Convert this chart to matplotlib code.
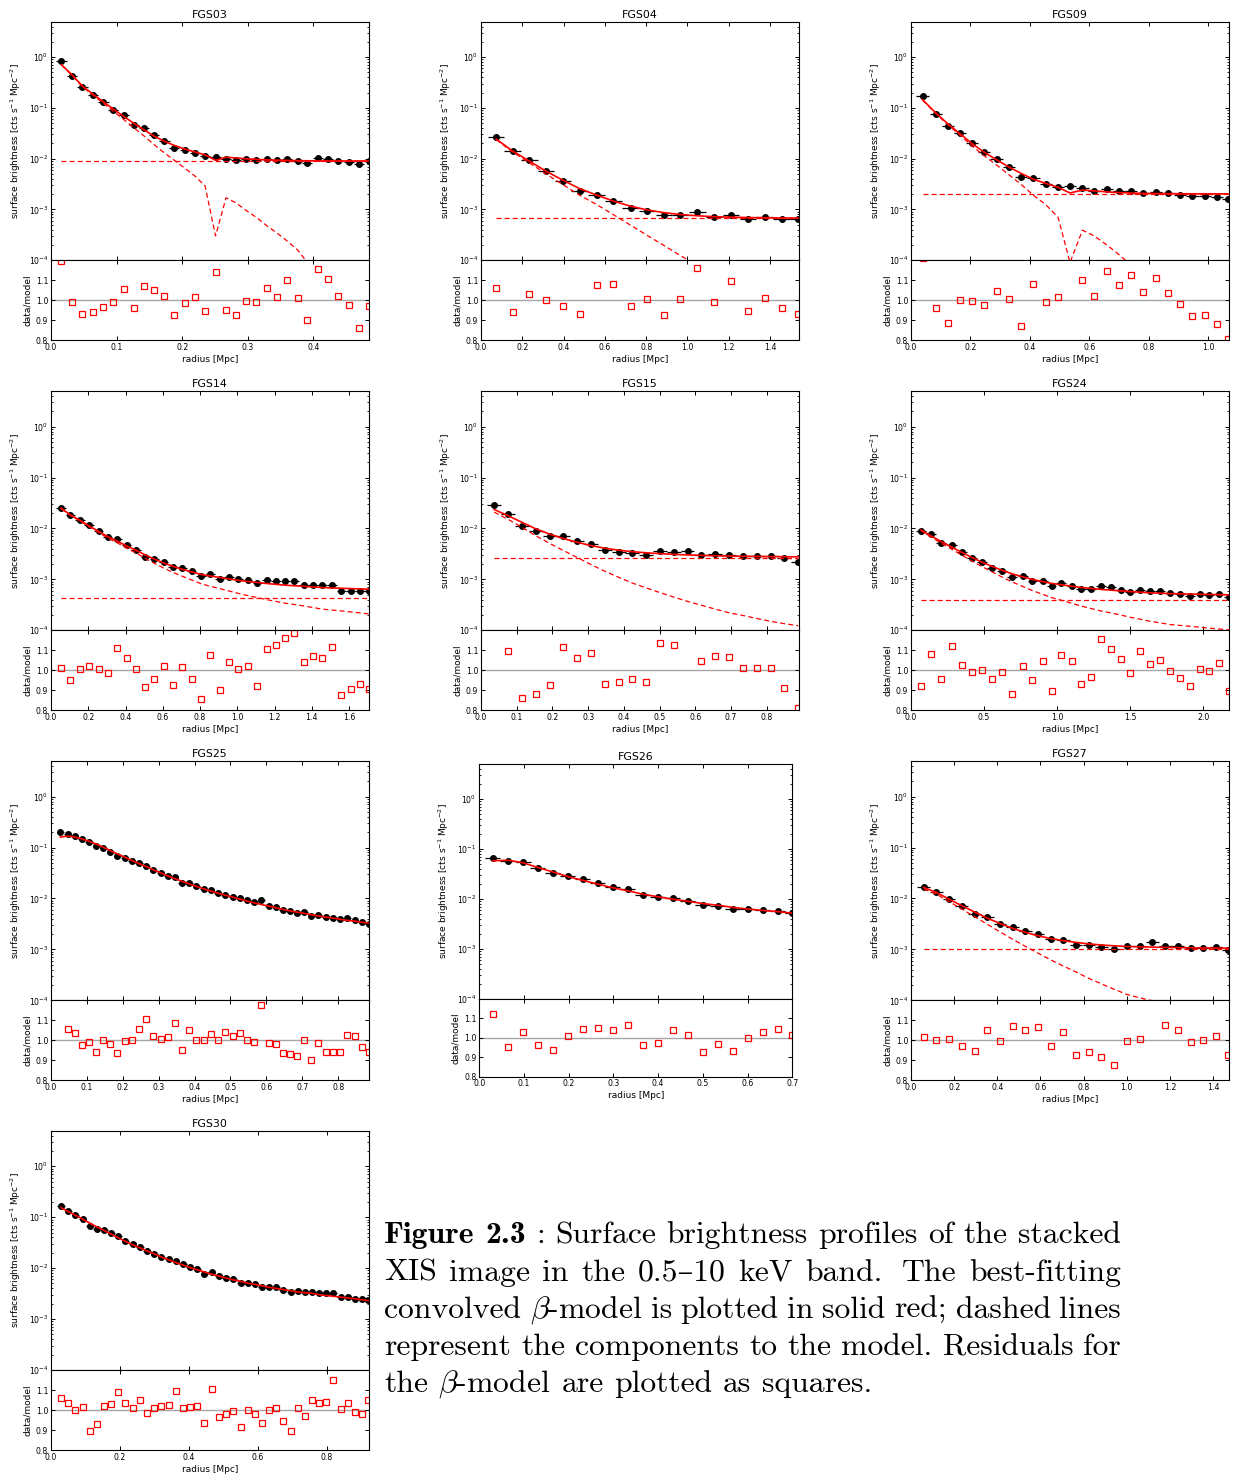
import re
import matplotlib
matplotlib.use("Agg")
import numpy as np
import matplotlib.pyplot as plt
from matplotlib.ticker import MultipleLocator, NullLocator

W, H = 1233, 1478

# ---- FGS03 ----
fgs03_r = [0.016, 0.032, 0.048, 0.064, 0.080, 0.095, 0.111, 0.126, 0.142, 0.157, 0.173, 0.188, 0.204, 0.220, 0.235, 0.251,
           0.267, 0.282, 0.298, 0.313, 0.329, 0.345, 0.360, 0.376, 0.391, 0.407, 0.423, 0.438, 0.454, 0.470, 0.485]
fgs03_sb = [0.85, 0.43, 0.26, 0.18, 0.128, 0.093, 0.071, 0.047, 0.0395, 0.0288, 0.022, 0.0164, 0.0146, 0.0131, 0.0113, 0.0106,
            0.0100, 0.0094, 0.0097, 0.0094, 0.0099, 0.0094, 0.0100, 0.0091, 0.0081, 0.0103, 0.0098, 0.0091, 0.0086, 0.0077, 0.0089]
fgs03_ratio = [1.195, 0.993, 0.93, 0.942, 0.965, 0.993, 1.058, 0.963, 1.073, 1.052, 1.022, 0.928, 0.987, 1.018, 0.945, 1.143,
               0.95, 0.925, 0.998, 0.99, 1.063, 1.015, 1.103, 1.013, 0.90, 1.157, 1.108, 1.023, 0.975, 0.86, 0.972]
fgs03_beta = [0.70, 0.44, 0.26, 0.178, 0.123, 0.086, 0.059, 0.041, 0.028, 0.019, 0.013, 0.0093, 0.0065, 0.0045, 0.0029, 0.0003,
              0.0017, 0.00135, 0.00095, 0.0007, 0.00048, 0.00034, 0.00024, 0.00016, 0.00009, 0.00006, 0.00004, 0.00003, 0.00002,
              0.000013, 0.000009]
fgs03_bg = 0.009

# ---- FGS04 ----
fgs04_r = [0.073, 0.153, 0.234, 0.315, 0.396, 0.478, 0.560, 0.641, 0.724, 0.804, 0.886, 0.966, 1.048, 1.129, 1.211, 1.294,
           1.374, 1.456, 1.535]
fgs04_sb = [0.0271, 0.0144, 0.0094, 0.0057, 0.00358, 0.00231, 0.00193, 0.00147, 0.00105, 0.00095, 0.00078, 0.00079, 0.00088,
            0.00072, 0.00078, 0.00066, 0.0007, 0.00066, 0.00064]
fgs04_ratio = [1.063, 0.942, 1.03, 1.0, 0.972, 0.933, 1.078, 1.08, 0.972, 1.008, 0.928, 1.008, 1.163, 0.993, 1.097, 0.947,
               1.013, 0.963, 0.933]
fgs04_beta = [0.0238, 0.0135, 0.0083, 0.0050, 0.0031, 0.0019, 0.00125, 0.00079, 0.00049, 0.00031, 0.000195, 0.000123, 0.00008,
              0.00005, 0.000035, 0.000022, 0.000015, 0.00001, 0.000007]
fgs04_bg = 0.00067

# ---- FGS09 ----
fgs09_r = [0.039, 0.084, 0.125, 0.165, 0.206, 0.247, 0.288, 0.330, 0.371, 0.412, 0.453, 0.495, 0.535, 0.577, 0.617, 0.659,
           0.699, 0.741, 0.782, 0.823, 0.864, 0.906, 0.947, 0.988, 1.029, 1.068]
fgs09_sb = [0.168, 0.0757, 0.0433, 0.0315, 0.0203, 0.0133, 0.0098, 0.00676, 0.00437, 0.00417, 0.00322, 0.00277, 0.00295,
            0.0026, 0.00234, 0.00253, 0.00228, 0.00231, 0.00214, 0.00224, 0.00211, 0.00196, 0.00184, 0.00184, 0.00176, 0.00161]
fgs09_ratio = [1.21, 0.962, 0.885, 1.003, 0.998, 0.978, 1.048, 1.005, 0.87, 1.082, 0.99, 1.015, 1.37, 1.102, 1.023, 1.147,
               1.075, 1.125, 1.043, 1.112, 1.038, 0.98, 0.923, 0.925, 0.883, 0.807]
fgs09_beta = [0.143, 0.077, 0.046, 0.029, 0.0177, 0.0113, 0.0075, 0.0048, 0.0031, 0.0019, 0.00125, 0.0007, 0.00009, 0.00039,
              0.0003, 0.0002, 0.00013, 0.00008, 0.00005, 0.000035, 0.000025, 0.000018, 0.000013, 0.00001, 0.000007, 0.000005]
fgs09_bg = 0.00202

# ---- FGS14 ----
fgs14_r = [0.054, 0.104, 0.156, 0.204, 0.256, 0.304, 0.356, 0.406, 0.457, 0.507, 0.555, 0.605, 0.655, 0.705, 0.756, 0.806,
           0.856, 0.906, 0.956, 1.006, 1.056, 1.107, 1.157, 1.207, 1.257, 1.307, 1.357, 1.407, 1.457, 1.508, 1.558, 1.608,
           1.658, 1.705]
fgs14_sb = [0.0255, 0.0183, 0.0148, 0.0116, 0.0089, 0.00686, 0.00626, 0.0047, 0.00369, 0.00277, 0.00246, 0.00221, 0.00174,
            0.00168, 0.00143, 0.00114, 0.00128, 0.00101, 0.0011, 0.00102, 0.00096, 0.00083, 0.00096, 0.00094, 0.00094, 0.00092,
            0.00078, 0.00078, 0.00076, 0.00078, 0.00059, 0.0006, 0.0006, 0.00058]
fgs14_ratio = [1.01, 0.953, 1.007, 1.022, 1.007, 0.988, 1.113, 1.06, 1.007, 0.913, 0.957, 1.022, 0.923, 1.017, 0.957, 0.857,
               1.077, 0.898, 1.042, 1.007, 1.02, 0.918, 1.105, 1.125, 1.163, 1.188, 1.043, 1.072, 1.06, 1.118, 0.873, 0.903,
               0.928, 0.903]
fgs14_beta = [0.0246, 0.018, 0.014, 0.0108, 0.0083, 0.0065, 0.0052, 0.0041, 0.0033, 0.00257, 0.00207, 0.00167, 0.00137,
              0.00115, 0.00097, 0.00082, 0.00073, 0.00066, 0.00059, 0.00053, 0.00048, 0.00044, 0.0004, 0.00037, 0.00034,
              0.00032, 0.0003, 0.00028, 0.00026, 0.00025, 0.00024, 0.00023, 0.00022, 0.00021]
fgs14_bg = 0.00043

# ---- FGS15 ----
fgs15_r = [0.037, 0.076, 0.115, 0.153, 0.192, 0.230, 0.269, 0.308, 0.346, 0.385, 0.423, 0.462, 0.501, 0.539, 0.578, 0.617,
           0.656, 0.695, 0.734, 0.773, 0.811, 0.849, 0.888]
fgs15_sb = [0.0292, 0.0194, 0.0113, 0.00873, 0.00707, 0.00707, 0.00563, 0.00492, 0.00375, 0.00348, 0.00332, 0.00303, 0.00363,
            0.00348, 0.00363, 0.00303, 0.00313, 0.00303, 0.00286, 0.00286, 0.00286, 0.00257, 0.00224]
fgs15_ratio = [1.30, 1.095, 0.862, 0.88, 0.923, 1.118, 1.063, 1.088, 0.932, 0.943, 0.957, 0.94, 1.138, 1.127, 1.25, 1.048,
               1.073, 1.068, 1.01, 1.013, 1.013, 0.91, 0.81]
fgs15_beta = [0.0209, 0.0151, 0.0105, 0.0072, 0.0051, 0.0037, 0.0027, 0.00195, 0.00145, 0.0011, 0.00085, 0.00068, 0.00055,
              0.00045, 0.00037, 0.00031, 0.00026, 0.00022, 0.000195, 0.00017, 0.00015, 0.000135, 0.000123]
fgs15_bg = 0.00265

# ---- FGS24 ----
fgs24_r = [0.068, 0.139, 0.208, 0.279, 0.347, 0.416, 0.486, 0.555, 0.623, 0.692, 0.763, 0.831, 0.900, 0.961, 1.027, 1.098,
           1.162, 1.228, 1.299, 1.365, 1.434, 1.500, 1.568, 1.637, 1.703, 1.772, 1.838, 1.906, 1.975, 2.041, 2.110, 2.174]
fgs24_sb = [0.00873, 0.00762, 0.00522, 0.00477, 0.00342, 0.00265, 0.00218, 0.00171, 0.00149, 0.00112, 0.00115, 0.00095,
            0.00095, 0.000745, 0.00083, 0.000745, 0.00064, 0.00064, 0.000745, 0.0007, 0.00063, 0.00057, 0.00062, 0.00058,
            0.00058, 0.00054, 0.00051, 0.00048, 0.00052, 0.0005, 0.00052, 0.00045]
fgs24_ratio = [0.922, 1.082, 0.957, 1.123, 1.028, 0.99, 1.002, 0.957, 0.992, 0.88, 1.02, 0.95, 1.048, 0.897, 1.077, 1.048,
               0.932, 0.968, 1.158, 1.107, 1.055, 0.988, 1.097, 1.032, 1.05, 0.998, 0.963, 0.918, 1.008, 0.997, 1.038, 0.897]
fgs24_beta = [0.0090, 0.0067, 0.0051, 0.0039, 0.0030, 0.0023, 0.00178, 0.0014, 0.00111, 0.00089, 0.00073, 0.0006, 0.00051,
              0.00044, 0.00039, 0.00034, 0.0003, 0.00027, 0.00024, 0.00022, 0.0002, 0.00018, 0.000165, 0.00015, 0.00014,
              0.00013, 0.000125, 0.00012, 0.000115, 0.00011, 0.000106, 0.000102]
fgs24_bg = 0.000395

# ---- FGS25 ----
fgs25_r = [0.026, 0.046, 0.066, 0.086, 0.106, 0.126, 0.146, 0.165, 0.185, 0.205, 0.225, 0.245, 0.266, 0.285, 0.306, 0.325,
           0.345, 0.365, 0.385, 0.405, 0.425, 0.445, 0.465, 0.485, 0.506, 0.526, 0.546, 0.566, 0.586, 0.606, 0.626, 0.646,
           0.665, 0.686, 0.705, 0.725, 0.745, 0.766, 0.786, 0.805, 0.825, 0.846, 0.866, 0.885]
fgs25_sb = [0.20, 0.1815, 0.171, 0.145, 0.130, 0.107, 0.0977, 0.0828, 0.069, 0.063, 0.0551, 0.0503, 0.044, 0.0361, 0.0315,
            0.0275, 0.0263, 0.0203, 0.0203, 0.0172, 0.0155, 0.0148, 0.0127, 0.0118, 0.0109, 0.0100, 0.00914, 0.00834, 0.00927,
            0.00718, 0.00665, 0.00598, 0.00563, 0.00515, 0.0053, 0.00449, 0.0047, 0.00423, 0.00404, 0.00392, 0.0041, 0.0038,
            0.00348, 0.00322]
fgs25_ratio = [1.30, 1.057, 1.037, 0.975, 0.993, 0.94, 1.003, 0.98, 0.937, 0.998, 1.0, 1.057, 1.107, 1.022, 1.008, 1.015,
               1.088, 0.95, 1.05, 1.003, 1.003, 1.032, 1.003, 1.04, 1.023, 1.038, 1.003, 0.99, 1.178, 0.987, 0.983, 0.935,
               0.93, 0.918, 1.002, 0.9, 0.988, 0.942, 0.942, 0.943, 1.028, 1.022, 0.967, 0.94]
fgs25_model = [0.160, 0.168, 0.160, 0.148, 0.133, 0.117, 0.101, 0.087, 0.075, 0.065, 0.056, 0.0485, 0.042, 0.0365, 0.0318,
               0.0278, 0.0245, 0.0217, 0.0193, 0.0172, 0.0155, 0.0140, 0.0127, 0.0116, 0.0106, 0.0097, 0.0089, 0.0082, 0.0076,
               0.0071, 0.0066, 0.0061, 0.0057, 0.0054, 0.0051, 0.0048, 0.0045, 0.0043, 0.0041, 0.0039, 0.0037, 0.0036,
               0.0034, 0.0033]

# ---- FGS26 ----
fgs26_r = [0.030, 0.064, 0.098, 0.131, 0.164, 0.198, 0.231, 0.265, 0.298, 0.332, 0.365, 0.399, 0.433, 0.466, 0.500, 0.533,
           0.567, 0.600, 0.634, 0.667, 0.700]
fgs26_sb = [0.065, 0.0575, 0.0541, 0.041, 0.0326, 0.0284, 0.0247, 0.0209, 0.0174, 0.0156, 0.012, 0.0108, 0.0103, 0.00912,
            0.00747, 0.00724, 0.00631, 0.00631, 0.00612, 0.00585, 0.00533]
fgs26_ratio = [1.125, 0.953, 1.029, 0.963, 0.937, 1.012, 1.046, 1.053, 1.039, 1.068, 0.963, 0.973, 1.039, 1.017, 0.925,
               0.966, 0.930, 0.998, 1.029, 1.046, 1.015]
fgs26_model = [0.058, 0.0595, 0.053, 0.0426, 0.0348, 0.0281, 0.0236, 0.0198, 0.0168, 0.0146, 0.0125, 0.0111, 0.0099, 0.0090,
               0.0081, 0.0075, 0.0068, 0.0063, 0.0059, 0.0056, 0.0052]

# ---- FGS27 ----
fgs27_r = [0.059, 0.118, 0.176, 0.235, 0.295, 0.354, 0.413, 0.471, 0.530, 0.589, 0.648, 0.706, 0.765, 0.824, 0.883, 0.941,
           1.002, 1.060, 1.119, 1.179, 1.238, 1.297, 1.355, 1.414, 1.471]
fgs27_sb = [0.0167, 0.0131, 0.0097, 0.00696, 0.00499, 0.0043, 0.00318, 0.00277, 0.00231, 0.00196, 0.00161, 0.00154, 0.00123,
            0.00121, 0.00112, 0.00104, 0.00115, 0.00114, 0.00141, 0.00119, 0.00115, 0.00107, 0.00107, 0.00109, 0.00098]
fgs27_ratio = [1.018, 1.002, 1.007, 0.973, 0.947, 1.05, 0.995, 1.073, 1.052, 1.065, 0.973, 1.04, 0.923, 0.943, 0.917, 0.877,
               0.997, 1.007, 1.28, 1.075, 1.053, 0.992, 1.0, 1.022, 0.927]
fgs27_beta = [0.0154, 0.0121, 0.0087, 0.0062, 0.0044, 0.0031, 0.0022, 0.00158, 0.00115, 0.00084, 0.00062, 0.00047, 0.00036,
              0.00027, 0.00021, 0.000165, 0.00013, 0.000112, 0.000098, 0.000085, 0.000074, 0.000065, 0.000057, 0.00005,
              0.000044]
fgs27_bg = 0.00101

# ---- FGS30 ----
fgs30_r = [0.029, 0.050, 0.071, 0.092, 0.112, 0.132, 0.154, 0.175, 0.195, 0.216, 0.237, 0.258, 0.278, 0.300, 0.320, 0.341,
           0.361, 0.383, 0.403, 0.424, 0.445, 0.466, 0.487, 0.507, 0.528, 0.550, 0.570, 0.591, 0.612, 0.632, 0.653, 0.673,
           0.695, 0.715, 0.736, 0.757, 0.778, 0.798, 0.819, 0.840, 0.861, 0.881, 0.902, 0.920]
fgs30_sb = [0.163, 0.134, 0.110, 0.092, 0.068, 0.0594, 0.0551, 0.0481, 0.0426, 0.034, 0.0297, 0.0263, 0.0216, 0.0188, 0.0167,
            0.0148, 0.0139, 0.0118, 0.0105, 0.0097, 0.00785, 0.00834, 0.00686, 0.00646, 0.00608, 0.00515, 0.00522, 0.00484,
            0.0043, 0.00436, 0.00417, 0.00369, 0.00337, 0.00358, 0.00337, 0.00337, 0.00322, 0.00318, 0.00327, 0.00273,
            0.00269, 0.00253, 0.00245, 0.00242]
fgs30_ratio = [1.058, 1.035, 0.998, 1.013, 0.895, 0.928, 1.022, 1.03, 1.09, 1.033, 1.012, 1.05, 0.985, 1.01, 1.018, 1.023,
               1.097, 1.01, 1.015, 1.02, 0.933, 1.107, 0.967, 0.98, 0.995, 0.915, 0.998, 0.978, 0.933, 1.0, 1.012, 0.943,
               0.893, 1.01, 0.968, 1.052, 1.035, 1.04, 1.15, 1.005, 1.033, 0.988, 0.982, 1.05]
fgs30_model = [0.154, 0.129, 0.109, 0.092, 0.077, 0.065, 0.055, 0.0465, 0.0395, 0.0335, 0.0288, 0.025, 0.0218, 0.019, 0.0166,
               0.0146, 0.0129, 0.0115, 0.0103, 0.0093, 0.0084, 0.0076, 0.0070, 0.0064, 0.0059, 0.0055, 0.0051, 0.0048, 0.0045,
               0.0042, 0.0040, 0.0038, 0.0036, 0.0034, 0.0033, 0.0032, 0.0030, 0.0029, 0.0028, 0.0027, 0.0026, 0.0025,
               0.0024, 0.0023]

# name, radius, data, data/model, model (beta part), background, bin half width, x max, x tick step
panels = [
    ("FGS03", fgs03_r, fgs03_sb, fgs03_ratio, fgs03_beta, fgs03_bg, 0.0078, 0.485, 0.1),
    ("FGS04", fgs04_r, fgs04_sb, fgs04_ratio, fgs04_beta, fgs04_bg, 0.040, 1.54, 0.2),
    ("FGS09", fgs09_r, fgs09_sb, fgs09_ratio, fgs09_beta, fgs09_bg, 0.0205, 1.07, 0.2),
    ("FGS14", fgs14_r, fgs14_sb, fgs14_ratio, fgs14_beta, fgs14_bg, 0.025, 1.707, 0.2),
    ("FGS15", fgs15_r, fgs15_sb, fgs15_ratio, fgs15_beta, fgs15_bg, 0.0195, 0.89, 0.1),
    ("FGS24", fgs24_r, fgs24_sb, fgs24_ratio, fgs24_beta, fgs24_bg, 0.034, 2.175, 0.5),
    ("FGS25", fgs25_r, fgs25_sb, fgs25_ratio, fgs25_model, None, 0.010, 0.886, 0.1),
    ("FGS26", fgs26_r, fgs26_sb, fgs26_ratio, fgs26_model, None, 0.0167, 0.70, 0.1),
    ("FGS27", fgs27_r, fgs27_sb, fgs27_ratio, fgs27_beta, fgs27_bg, 0.029, 1.474, 0.2),
    ("FGS30", fgs30_r, fgs30_sb, fgs30_ratio, fgs30_model, None, 0.0105, 0.922, 0.2),
]

# panel boxes in pixels: left, top, width, main height, residual height
boxes = [
    (51, 21.7, 318, 238.5, 80), (481, 21.7, 318, 238.5, 80), (911, 21.7, 318, 238.5, 80),
    (51, 391, 318, 239.3, 79.7), (481, 391, 318, 239.3, 79.7), (911, 391, 318, 239.3, 79.7),
    (51, 761, 318, 239.3, 79.7), (479.3, 764, 313, 235, 77.7), (911, 761, 318, 239.3, 79.7),
    (51, 1130.7, 318, 239.3, 80),
]

plt.rcParams["font.family"] = "DejaVu Sans"
plt.rcParams["axes.linewidth"] = 0.8

fig = plt.figure(figsize=(W / 100, H / 100), dpi=100)

dash = (0, (4, 2.5))
for (name, r, sb, ratio, model, bg, half, xmax, step), box in zip(panels, boxes):
    left, top, width, hmain, hres = box
    ax = fig.add_axes([left / W, 1 - (top + hmain) / H, width / W, hmain / H])
    rax = fig.add_axes([left / W, 1 - (top + hmain + hres) / H, width / W, hres / H])
    r = np.array(r)

    ax.errorbar(r, sb, xerr=half, fmt="o", color="k", ms=4, elinewidth=0.9, capsize=0, zorder=2)
    if bg is None:
        ax.plot(r, model, color="red", lw=1.2, zorder=3)
    else:
        ax.plot(r, np.array(model) + bg, color="red", lw=1.2, zorder=3)
        ax.plot(r, model, color="red", lw=0.9, ls=dash, zorder=3)
        ax.plot([r[0], r[-1]], [bg, bg], color="red", lw=0.9, ls=dash, zorder=3)
    ax.set_yscale("log")
    ax.set_ylim(1e-4, 5)
    ax.set_xlim(0, xmax)
    ax.xaxis.set_major_locator(MultipleLocator(step))
    ax.xaxis.set_minor_locator(NullLocator())
    ax.tick_params(axis="x", labelbottom=False)
    ax.set_title(name, fontsize=7.9, pad=3)
    ax.set_ylabel(r"surface brightness [cts s$^{-1}$ Mpc$^{-2}$]", fontsize=6.5, labelpad=4)

    rax.axhline(1.0, color="0.65", lw=1, zorder=1)
    rax.plot(r, ratio, "s", mfc="none", mec="red", ms=3.8, mew=0.9, zorder=2)
    rax.set_xlim(0, xmax)
    rax.set_ylim(0.8, 1.2)
    rax.set_yticks([0.8, 0.9, 1.0, 1.1])
    rax.xaxis.set_major_locator(MultipleLocator(step))
    rax.set_xlabel("radius [Mpc]", fontsize=6.5, labelpad=2)
    rax.set_ylabel("data/model", fontsize=6.5, labelpad=3)

    for a in (ax, rax):
        a.tick_params(which="both", direction="in", top=True, right=True, labelsize=5.6, pad=2)
        a.tick_params(which="major", length=3, width=0.7)
        a.tick_params(which="minor", length=1.6, width=0.6)

# caption, justified word by word like the typeset original
caption = [
    "Figure 2.3 : Surface brightness profiles of the stacked",
    "XIS image in the 0.5\u201310 keV band.  The best-fitting",
    r"convolved $\beta$-model is plotted in solid red; dashed lines",
    "represent the components to the model. Residuals for",
    r"the $\beta$-model are plotted as squares.",
]
cap_x0, cap_x1 = 384, 1121
cap_base = [1243.3, 1280.6, 1318.0, 1355.0, 1391.7]

renderer = fig.canvas.get_renderer()
for i, line in enumerate(caption):
    parts = re.split(r"( +)", line)
    words = parts[0::2]
    weights = [1.0 if len(s) == 1 else 1.6 for s in parts[1::2]]
    texts = []
    for j, w in enumerate(words):
        fam = "cmb10" if (i == 0 and j < 2) else "cmr10"
        t = fig.text(0, 1 - cap_base[i] / H, w, fontsize=22.8, family=[fam, "DejaVu Serif"],
                     math_fontfamily="cm", ha="left", va="baseline")
        texts.append(t)
    widths = [t.get_window_extent(renderer).width for t in texts]
    if i < len(caption) - 1:
        unit = (cap_x1 - cap_x0 - sum(widths)) / sum(weights)
    else:
        unit = 10.5
    x = cap_x0
    for j, t in enumerate(texts):
        t.set_x(x / W)
        x += widths[j]
        if j < len(weights):
            x += unit * weights[j]

fig.savefig("out.png", dpi=100)
